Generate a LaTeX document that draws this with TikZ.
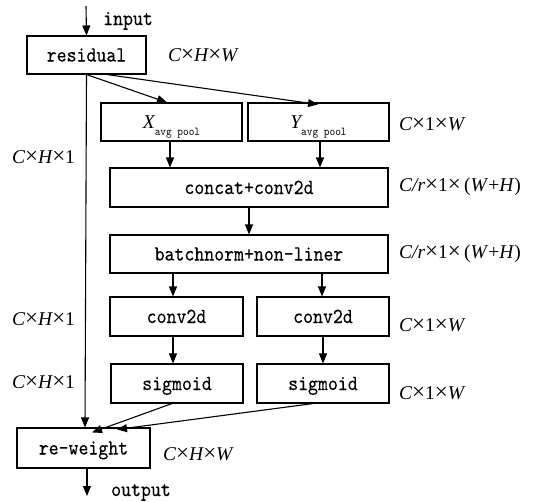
\documentclass[tikz,border=0pt]{standalone}
\usepackage{fontspec}
\usetikzlibrary{arrows.meta}
\newfontfamily\boxtt{lmmono10-regular}[Extension=.otf, FakeStretch=0.88, FakeBold=0.2]
\newfontfamily\subtt{lmmono10-regular}[Extension=.otf, FakeStretch=0.9]
\newfontfamily\dimrm{Liberation Serif}
\newcommand\boxfont{\fontsize{21.5}{24}\boxtt}
\newcommand\dimfont{\fontsize{19.5}{22}\dimrm\itshape}
\newcommand\subfont{\fontsize{12}{14}\subtt}
\newcommand\mul{{\fontsize{23}{22}\selectfont\upshape ×}}
\begin{document}
\begin{tikzpicture}[x=1pt,y=-1pt,
  box/.style={draw, line width=1.1pt, rectangle, inner sep=0pt,
    font=\boxfont, text height=14pt, text depth=1pt},
  dim/.style={inner sep=0pt, font=\dimfont},
  tag/.style={inner sep=0pt, font=\boxfont},
  link/.style={line width=1.1pt, -{Triangle[length=10pt,width=8pt]}}]
\useasboundingbox (0,0) rectangle (538,501);

% boxes
\node[box, minimum width=119pt, minimum height=38pt] (res) at (86.5,55) {residual};
\node[box, minimum width=141pt, minimum height=38pt] (xp) at (171.5,122)
  {{\dimfont X}\raisebox{-7pt}{\subfont avg pool}};
\node[box, minimum width=141pt, minimum height=38pt] (yp) at (318.5,122)
  {{\dimfont Y}\raisebox{-7pt}{\subfont avg pool}};
\node[box, minimum width=278pt, minimum height=39pt] (cat) at (249,187.5) {concat+conv2d};
\node[box, minimum width=278pt, minimum height=38pt] (bn) at (249,254) {batchnorm+non-liner};
\node[box, minimum width=133pt, minimum height=39pt] (cl) at (176.5,316.5) {conv2d};
\node[box, minimum width=132pt, minimum height=39pt] (cr) at (323,316.5) {conv2d};
\node[box, minimum width=132pt, minimum height=39pt] (sl) at (177,383.5) {sigmoid};
\node[box, minimum width=132pt, minimum height=39pt] (sr) at (323,383.5) {sigmoid};
\node[box, minimum width=133pt, minimum height=40pt] (rw) at (83.5,448) {re-weight};

% input / output
\coordinate (in) at (86,6);
\coordinate (out) at (87,496);
\node[tag, anchor=base west] (intxt) at (103,25) {input};
\node[tag, anchor=base west] (outtxt) at (111,496) {output};

% dimension labels
\node[dim, anchor=west] (d0) at (168,55) {C\mul H\mul W};
\node[dim, anchor=west] (d1) at (12,157) {C\mul H\mul\textup{1}};
\node[dim, anchor=west] (d2) at (399,124) {C\mul\textup{1}\mul W};
\node[dim, anchor=west] (d3) at (399,187) {C/r\mul\textup{1}\mul\,\textup{(}W\textup{+}H\textup{)}};
\node[dim, anchor=west] (d4) at (399,254) {C/r\mul\textup{1}\mul\,\textup{(}W\textup{+}H\textup{)}};
\node[dim, anchor=west] (d5) at (12,319) {C\mul H\mul\textup{1}};
\node[dim, anchor=west] (d6) at (399,325) {C\mul\textup{1}\mul W};
\node[dim, anchor=west] (d7) at (12,382) {C\mul H\mul\textup{1}};
\node[dim, anchor=west] (d8) at (399,393) {C\mul\textup{1}\mul W};
\node[dim, anchor=west] (d9) at (163,454) {C\mul H\mul W};

% connectors
\draw[link] (in) -- (res.north);
\draw[link] (res.south) -- ([xshift=-4.5pt]xp.north);
\draw[link] ([xshift=20.5pt]res.south) -- ([xshift=-0.5pt,yshift=-2pt]yp.north);
\draw[link] ([xshift=-1.5pt]xp.south) -- ([xshift=-1.5pt]xp.south |- cat.north);
\draw[link] ([xshift=1.5pt]yp.south) -- ([xshift=1.5pt]yp.south |- cat.north);
\draw[link] (cat.south) -- (bn.north);
\draw[link] ([xshift=-76pt]bn.south) -- ([xshift=-76pt]bn.south |- cl.north);
\draw[link] ([xshift=73pt]bn.south) -- ([xshift=73pt]bn.south |- cr.north);
\draw[link] ([xshift=-3.5pt]cl.south) -- ([xshift=-3.5pt]cl.south |- sl.north);
\draw[link] (cr.south) -- (sr.south |- sr.north);
\draw[link] (res.south) -- ([xshift=1.5pt]rw.north);
\draw[link] ([xshift=-5pt]sl.south) -- ([xshift=8.5pt,yshift=-5pt]rw.north);
\draw[link] ([xshift=-10pt]sr.south) -- ([xshift=33.5pt,yshift=-2pt]rw.north);
\draw[link] ([xshift=3.5pt]rw.south) -- (out);
\end{tikzpicture}
\end{document}
